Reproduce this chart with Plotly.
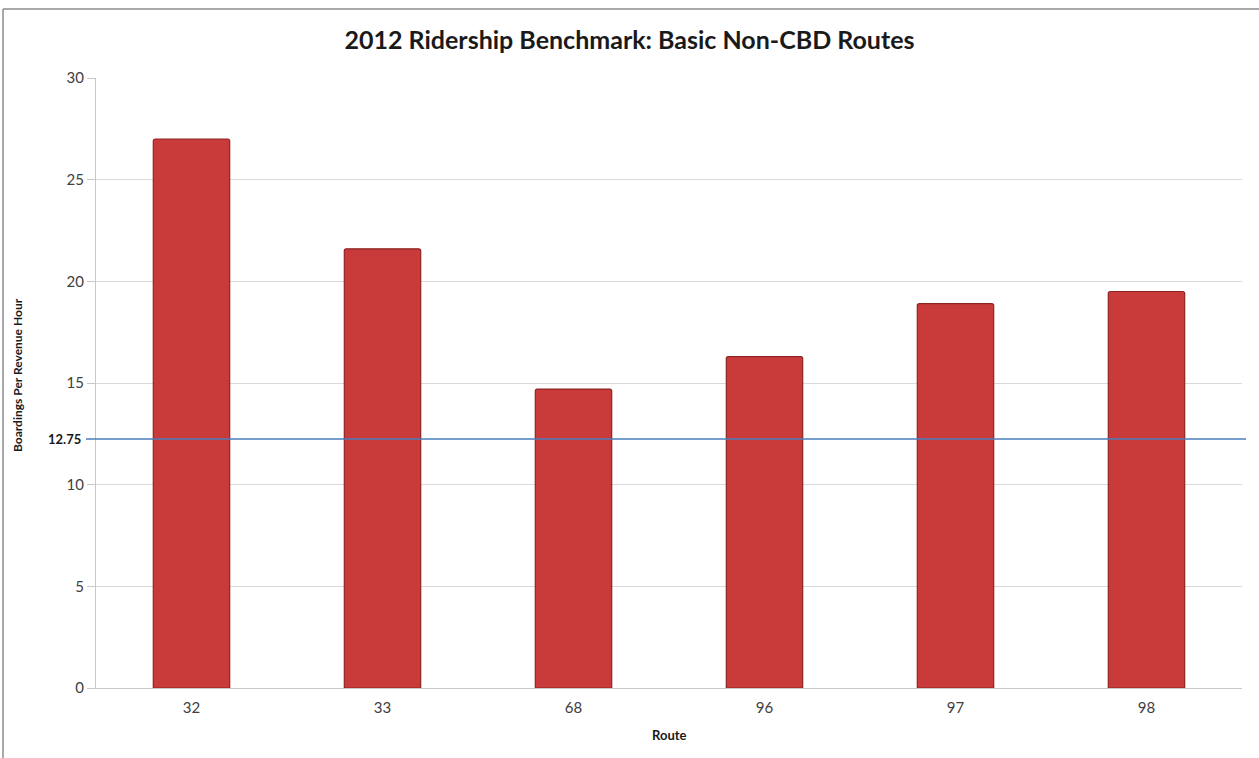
import plotly.graph_objects as go

routes = ["32", "33", "68", "96", "97", "98"]
boardings = [27.0, 21.6, 14.7, 16.3, 18.9, 19.5]
benchmark_label = "12.75"
benchmark_y = 12.25  # position of the drawn benchmark line
y_ticks = [0, 5, 10, 15, 20, 25, 30]

W, H = 1259, 758
ml, mr, mt, mb = 96, 17, 78, 70
pw, ph = W - ml - mr, H - mt - mb

def px_x(x):
    return (x - ml) / pw

def px_y(y):
    return (H - mb - y) / ph

fig = go.Figure()
fig.add_trace(go.Bar(
    x=routes, y=boardings, width=0.40,
    marker=dict(color="#c93b3a", line=dict(color="#8e2422", width=1.2),
                cornerradius=2),
    hoverinfo="x+y",
))

fig.update_layout(
    width=W, height=H,
    margin=dict(l=ml, r=mr, t=mt, b=mb),
    paper_bgcolor="white", plot_bgcolor="white",
    showlegend=False,
    font=dict(family="Lato, Open Sans, sans-serif", color="#404040"),
    title=dict(text="<b>2012 Ridership Benchmark: Basic Non-CBD Routes</b>",
               x=0.5, xanchor="center", y=1 - 40 / H, yanchor="middle",
               font=dict(size=25, color="#1a1a1a", family="Lato, sans-serif")),
    xaxis=dict(type="category", showgrid=False, showline=True, linecolor="#c8c8c8",
               linewidth=1, ticks="outside", ticklen=6, tickcolor="rgba(0,0,0,0)",
               tickfont=dict(size=15, color="#404040"), range=[-0.5, 5.5]),
    yaxis=dict(range=[0, 30], tickvals=y_ticks, showgrid=True, gridcolor="#d9d9d9",
               gridwidth=1, showline=True, linecolor="#c8c8c8", linewidth=1,
               ticks="outside", ticklen=8, tickcolor="#c8c8c8",
               tickfont=dict(size=15, color="#404040"), zeroline=False),
)

# benchmark line
fig.add_shape(type="line", xref="paper", yref="y",
              x0=px_x(86), x1=px_x(1246), y0=benchmark_y, y1=benchmark_y,
              line=dict(color="#4a7ebb", width=1.5))
fig.add_annotation(xref="paper", yref="y", x=px_x(83), y=benchmark_y,
                   text="<b>" + benchmark_label + "</b>", showarrow=False,
                   xanchor="right", yanchor="middle",
                   font=dict(size=13, color="#1a1a1a"))

# axis titles
fig.add_annotation(xref="paper", yref="paper", x=px_x(17), y=px_y(375),
                   text="<b>Boardings Per Revenue Hour</b>", textangle=-90,
                   showarrow=False, xanchor="center", yanchor="middle",
                   font=dict(size=12, color="#1a1a1a"))
fig.add_annotation(xref="paper", yref="paper", x=0.5, y=px_y(735),
                   text="<b>Route</b>", showarrow=False,
                   xanchor="center", yanchor="middle",
                   font=dict(size=13, color="#1a1a1a"))

# chart frame (top and left edges visible in the reference)
fig.add_shape(type="line", xref="paper", yref="paper",
              x0=px_x(3), x1=px_x(W), y0=px_y(9), y1=px_y(9),
              line=dict(color="#8c8c8c", width=1.5))
fig.add_shape(type="line", xref="paper", yref="paper",
              x0=px_x(3), x1=px_x(3), y0=px_y(9), y1=px_y(H),
              line=dict(color="#8c8c8c", width=1.5))

fig.write_html("out.html")
